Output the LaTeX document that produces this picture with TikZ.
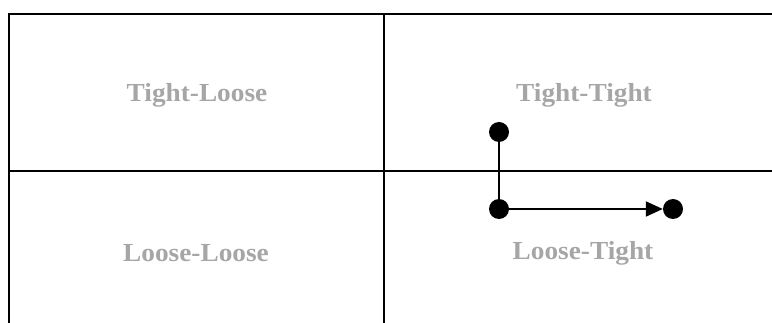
\documentclass[tikz,border=0pt]{standalone}
\usepackage{fontspec}
\setmainfont{Liberation Serif}
\usetikzlibrary{arrows.meta}
\definecolor{labelgray}{HTML}{A6A6A6}
\begin{document}
\begin{tikzpicture}[x=1pt,y=-1pt,
  gridline/.style={line width=2.4pt,line cap=rect},
  quadlabel/.style={font=\bfseries\fontsize{26}{30}\selectfont,text=labelgray,inner sep=0pt,anchor=center,xscale=1.05},
  dot/.style={circle,fill=black,minimum size=20pt,inner sep=0pt},
  link/.style={line width=2pt},
  arrowlink/.style={line width=2pt,-{Triangle[length=17pt,width=15pt]}}]
  \useasboundingbox (0,0) rectangle (772,323);
  % quadrant grid, open at the bottom and right
  \draw[gridline] (9,323) -- (9,14) -- (772,14);
  \draw[gridline] (9,171) -- (772,171);
  \draw[gridline] (384,14) -- (384,323);
  % quadrant labels
  \node[quadlabel] (tl) at (197,95) {Tight-Loose};
  \node[quadlabel] (tt) at (584,95) {Tight-Tight};
  \node[quadlabel] (ll) at (196,253) {Loose-Loose};
  \node[quadlabel] (lt) at (583,253) {Loose-Tight};
  % path from tight-tight down to loose-tight
  \node[dot] (start) at (499,132) {};
  \node[dot] (corner) at (499,209) {};
  \node[dot] (end) at (673,209) {};
  \draw[link] (start) -- (corner);
  \draw[arrowlink] (corner) -- (end);
\end{tikzpicture}
\end{document}
